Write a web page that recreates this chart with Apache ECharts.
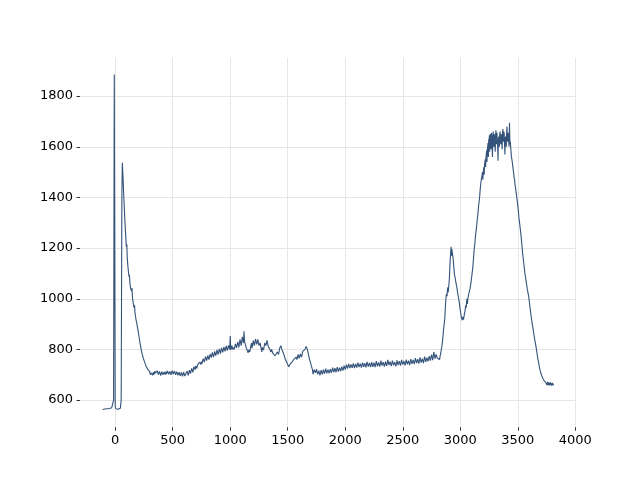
<!DOCTYPE html>
<html>
<head>
<meta charset="utf-8">
<script src="https://cdn.jsdelivr.net/npm/echarts@6/dist/echarts.min.js"></script>
<style>html,body{margin:0;padding:0;background:#fff}#c{width:640px;height:480px}</style>
</head>
<body>
<div id="c"></div>
<script>
// x ticks and y ticks
const xTicks = [0, 500, 1000, 1500, 2000, 2500, 3000, 3500, 4000];
const yTicks = [600, 800, 1000, 1200, 1400, 1600, 1800];

// data segments [x, y]
const baseline = [[-110,563],[-100,566],[-90,565],[-80,567],[-70,566],[-60,568],[-50,567],[-40,569],[-30,570],[-20,572],[-14,600],[-8,1885],[-4,1200],[0,575],[5,566],[15,565],[25,564],[35,566],[45,568],[52,600],[58,1400],[62,1537]];
const decay = [[68,1480],[75,1400],[82,1330],[90,1260],[97,1205],[101,1215],[105,1160],[112,1120],[120,1087],[124,1095],[128,1060],[135,1040],[142,1030],[146,1042],[149,1010],[156,985],[164,965],[168,975],[172,943],[180,920],[187,905],[193,889],[200,870],[208,848],[215,828],[222,810],[230,790],[238,775],[245,765],[252,755],[260,745],[268,735],[275,728],[282,722],[290,718]];
const flatLow = [[300,712],[305,700],[310,708],[315,715],[320,705],[325,698],[330,710],[335,700],[340,703],[345,714],[350,706],[355,699],[360,700],[365,716],[370,712],[375,701],[380,704],[385,713],[390,709],[395,697],[400,702],[405,712],[410,710],[415,700],[420,698],[425,711],[430,707],[435,700],[440,712],[445,703],[450,704],[455,715],[460,716],[465,702],[470,706],[475,713],[480,711],[485,700],[490,703],[495,716],[500,714],[505,703],[510,708],[515,715],[520,718],[525,700],[530,702],[535,712],[540,710],[545,698],[550,700],[555,710],[560,707],[565,696],[570,695],[575,709],[580,705],[585,694],[590,698],[595,710],[600,708],[605,695],[610,690],[615,705],[620,700],[625,714],[630,712],[635,698],[640,702],[645,718],[650,715]];
const hump = [[655,705],[660,708],[665,725],[670,722],[675,710],[680,716],[685,732],[690,728],[695,720],[700,735],[705,742],[710,725],[715,738],[720,745],[725,733],[730,738],[735,750],[740,743],[745,740],[750,752],[755,744],[760,748],[765,764],[770,760],[775,750],[780,755],[785,772],[790,768],[795,756],[800,760],[805,776],[810,772],[815,760],[820,766],[825,782],[830,778],[835,768],[840,772],[845,788],[850,782],[855,770],[860,776],[865,792],[870,788],[875,775],[880,781],[885,798],[890,792],[895,780],[900,786],[905,802],[910,796],[915,783],[920,788],[925,806],[930,800],[935,788],[940,792],[945,810],[950,805],[955,792],[960,798],[965,814],[970,808],[975,795],[980,800],[985,816],[990,812],[995,800],[1000,853],[1005,798],[1010,805],[1015,815],[1020,800],[1025,808],[1030,812],[1035,800],[1040,806],[1045,822],[1050,818],[1055,806],[1060,812],[1065,830],[1070,825],[1075,808],[1080,815],[1085,840],[1090,835],[1095,815],[1100,820],[1105,850],[1110,845],[1115,825],[1120,872],[1125,830],[1130,822],[1135,815],[1140,805],[1145,800],[1150,795],[1155,786],[1160,798],[1165,805],[1170,790],[1175,795],[1180,815],[1185,825],[1190,805],[1195,810],[1200,835],[1205,830],[1210,815],[1215,822],[1220,842],[1225,838],[1230,820],[1235,828],[1240,840],[1245,835],[1250,815],[1255,810],[1260,826],[1265,820],[1270,800],[1275,790],[1280,808],[1285,815],[1290,798],[1295,805],[1300,825],[1305,830],[1310,815],[1315,822],[1320,836],[1325,832],[1330,812],[1335,815],[1340,805],[1345,800],[1350,796],[1355,790],[1360,800],[1365,795],[1370,785],[1375,778],[1380,790],[1385,785],[1390,775],[1395,770],[1400,782],[1405,775],[1410,790],[1415,792],[1420,780],[1425,782],[1430,805],[1435,800],[1440,815],[1445,813],[1450,798],[1455,800],[1460,788],[1465,790],[1470,775],[1475,770],[1480,760],[1485,755],[1490,750],[1495,745],[1500,740],[1505,735],[1510,732],[1515,730],[1520,742],[1525,740],[1530,735],[1535,748],[1540,752],[1545,755],[1550,748],[1555,762],[1560,766],[1565,758],[1570,762],[1575,770],[1580,760],[1585,765],[1590,780],[1595,775],[1600,765],[1605,768],[1610,782],[1615,785],[1620,770],[1625,775],[1630,792],[1635,790],[1640,785],[1645,795],[1650,800],[1655,805],[1660,812],[1665,815],[1670,800],[1675,790],[1680,780],[1685,770],[1690,760],[1695,755],[1700,745],[1705,735],[1710,728],[1715,720]];
const plateau = [[1720,702],[1725,712],[1730,720],[1735,725],[1740,708],[1745,710],[1750,722],[1755,718],[1760,702],[1765,705],[1770,716],[1775,712],[1780,698],[1785,700],[1790,718],[1795,715],[1800,702],[1805,705],[1810,720],[1815,718],[1820,704],[1825,708],[1830,724],[1835,722],[1840,706],[1845,710],[1850,720],[1855,716],[1860,706],[1865,712],[1870,722],[1875,720],[1880,708],[1885,713],[1890,728],[1895,725],[1900,710],[1905,714],[1910,726],[1915,722],[1920,710],[1925,716],[1930,730],[1935,728],[1940,712],[1945,715],[1950,728],[1955,724],[1960,714],[1965,718],[1970,732],[1975,730],[1980,716],[1985,720],[1990,736],[1995,733],[2000,720],[2005,725],[2010,740],[2015,738],[2020,724],[2025,728],[2030,743],[2035,740],[2040,726],[2045,730],[2050,741],[2055,738],[2060,727],[2065,732],[2070,745],[2075,742],[2080,726],[2085,730],[2090,743],[2095,740],[2100,728],[2105,733],[2110,748],[2115,745],[2120,730],[2125,734],[2130,744],[2135,741],[2140,728],[2145,730],[2150,748],[2155,745],[2160,731],[2165,736],[2170,746],[2175,742],[2180,729],[2185,733],[2190,751],[2195,748],[2200,732],[2205,737],[2210,747],[2215,743],[2220,730],[2225,735],[2230,750],[2235,746],[2240,731],[2245,736],[2250,748],[2255,744],[2260,730],[2265,734],[2270,754],[2275,750],[2280,733],[2285,738],[2290,749],[2295,745],[2300,732],[2305,737],[2310,756],[2315,752],[2320,736],[2325,740],[2330,750],[2335,746],[2340,732],[2345,736],[2350,752],[2355,748],[2360,735],[2365,739],[2370,759],[2375,755],[2380,738],[2385,742],[2390,752],[2395,749],[2400,734],[2405,738],[2410,756],[2415,752],[2420,737],[2425,741],[2430,750],[2435,746],[2440,733],[2445,737],[2450,757],[2455,753],[2460,738],[2465,742],[2470,754],[2475,750],[2480,736],[2485,740],[2490,759],[2495,755],[2500,740],[2505,744],[2510,754],[2515,750],[2520,737],[2525,741],[2530,760],[2535,756],[2540,741],[2545,745],[2550,756],[2555,752],[2560,738],[2565,742],[2570,762],[2575,758],[2580,743],[2585,747],[2590,759],[2595,755],[2600,742],[2605,746],[2610,766],[2615,762],[2620,746],[2625,750],[2630,762],[2635,758],[2640,744],[2645,748],[2650,769],[2655,765],[2660,748],[2665,752],[2670,764],[2675,760],[2680,746],[2685,750],[2690,772],[2695,768],[2700,751],[2705,755],[2710,768],[2715,764],[2720,753],[2725,757],[2730,774],[2735,770],[2740,756],[2745,760],[2750,780],[2755,775],[2760,758],[2765,762],[2770,790],[2775,785],[2780,764],[2785,768],[2790,780],[2795,776],[2800,766],[2805,762],[2810,770],[2815,765],[2820,760],[2825,775]];
const peakOne = [[2830,785],[2835,800],[2840,812],[2845,830],[2850,855],[2855,880],[2860,900],[2865,920],[2870,965],[2875,1000],[2880,1020],[2885,1010],[2888,1035],[2892,1045],[2895,1025],[2898,1030],[2902,1060],[2905,1080],[2908,1110],[2912,1150],[2916,1180],[2920,1205],[2923,1185],[2925,1170],[2928,1195],[2930,1185],[2934,1170],[2938,1160],[2942,1135],[2945,1120],[2948,1100],[2952,1090],[2956,1080],[2960,1070],[2964,1060],[2968,1050],[2972,1040],[2975,1030],[2978,1020],[2982,1010],[2986,1000],[2990,990],[2994,975],[2998,960],[3002,950],[3005,940],[3008,930],[3012,925],[3015,935],[3018,915],[3022,928],[3025,935],[3028,918],[3032,925],[3036,940],[3040,950],[3044,962],[3048,975],[3052,965],[3055,990],[3058,1000],[3062,980],[3066,1000],[3070,1010],[3074,1020],[3078,1025],[3082,1015],[3085,1040],[3088,1050],[3092,1060],[3096,1075]];
const peakTwo = [[3100,1090],[3104,1105],[3108,1120],[3112,1140],[3115,1160],[3118,1180],[3122,1200],[3126,1215],[3130,1235],[3134,1255],[3138,1270],[3142,1285],[3145,1300],[3148,1315],[3152,1330],[3156,1350],[3160,1370],[3164,1385],[3168,1400],[3172,1425],[3175,1440],[3178,1455],[3182,1460],[3186,1480],[3190,1490],[3193,1500],[3196,1470],[3199,1495],[3202,1510],[3205,1520],[3208,1490],[3211,1530],[3214,1540],[3217,1550],[3220,1520],[3223,1555],[3226,1570],[3229,1585],[3232,1540],[3235,1590],[3238,1600],[3241,1615],[3244,1560],[3247,1630],[3250,1620],[3253,1645],[3256,1580],[3259,1635],[3262,1650],[3265,1605],[3268,1590],[3271,1655],[3274,1640],[3277,1600],[3280,1560],[3283,1640],[3286,1660],[3289,1615],[3292,1600],[3295,1650],[3298,1640],[3301,1610],[3304,1580],[3307,1645],[3310,1665],[3313,1625],[3316,1610],[3319,1655],[3322,1650],[3325,1600],[3328,1545],[3331,1620],[3334,1640],[3337,1615],[3340,1600],[3343,1650],[3346,1660],[3349,1620],[3352,1610],[3355,1650],[3358,1640],[3361,1615],[3364,1590],[3367,1650],[3370,1670],[3373,1630],[3376,1620],[3379,1660],[3382,1650],[3385,1610],[3388,1570],[3391,1630],[3394,1640],[3397,1615],[3400,1600],[3403,1655],[3406,1680],[3409,1640],[3412,1620],[3415,1655],[3418,1660],[3421,1625],[3424,1600],[3426,1650],[3428,1695],[3430,1640],[3432,1610],[3435,1620],[3438,1600]];
const tail = [[3441,1580],[3445,1560],[3448,1555],[3452,1540],[3456,1525],[3460,1510],[3464,1495],[3468,1480],[3472,1470],[3476,1450],[3480,1440],[3485,1420],[3490,1405],[3494,1390],[3498,1375],[3502,1360],[3506,1340],[3510,1320],[3514,1305],[3518,1290],[3522,1275],[3526,1260],[3530,1240],[3534,1220],[3538,1200],[3542,1180],[3547,1160],[3552,1140],[3557,1120],[3562,1100],[3567,1085],[3572,1070],[3577,1055],[3582,1040],[3588,1025],[3595,1008],[3600,990],[3605,970],[3610,952],[3615,935],[3620,918],[3625,903],[3630,890],[3635,875],[3640,860],[3645,845],[3650,832],[3653,824],[3658,812],[3662,800],[3667,785],[3672,770],[3677,758],[3682,745],[3687,732],[3692,720],[3697,712],[3702,705],[3707,698],[3712,692],[3717,686],[3722,682],[3727,678],[3732,675],[3737,672],[3742,670],[3746,665],[3749,668],[3752,660],[3756,662],[3759,672],[3762,670],[3765,658],[3768,660],[3771,670],[3775,668],[3778,658],[3782,662],[3786,670],[3790,667],[3794,657],[3799,660],[3802,668],[3805,666],[3808,658],[3810,663]];

const seriesData = [].concat(baseline, decay, flatLow, hump, plateau, peakOne, peakTwo, tail);

const chart = echarts.init(document.getElementById('c'), null, {renderer: 'canvas'});
const labelFont = {color: '#000', fontSize: 13, fontFamily: 'DejaVu Sans', formatter: function (v) { return String(v); }};
chart.setOption({
  animation: false,
  backgroundColor: '#fff',
  grid: {left: 80, right: 64, top: 57.6, bottom: 52.8, containLabel: false},
  xAxis: {
    type: 'value', min: -306, max: 4006,
    axisLine: {show: false, onZero: false},
    axisTick: {show: true, length: 3.5, customValues: xTicks, lineStyle: {color: '#000', width: 0.8}},
    axisLabel: Object.assign({customValues: xTicks, margin: 7}, labelFont),
    splitLine: {show: true, lineStyle: {color: '#e6e6e6', width: 1}}
  },
  yAxis: {
    type: 'value', min: 493, max: 1952,
    axisLine: {show: false, onZero: false},
    axisTick: {show: true, length: 3.5, customValues: yTicks, lineStyle: {color: '#000', width: 0.8}},
    axisLabel: Object.assign({customValues: yTicks, margin: 7}, labelFont),
    splitLine: {show: true, lineStyle: {color: '#e6e6e6', width: 1}}
  },
  series: [{
    type: 'line', data: seriesData, showSymbol: false, symbol: 'none',
    lineStyle: {color: '#34537a', width: 1.1}, clip: false
  }]
});
</script>
</body>
</html>
